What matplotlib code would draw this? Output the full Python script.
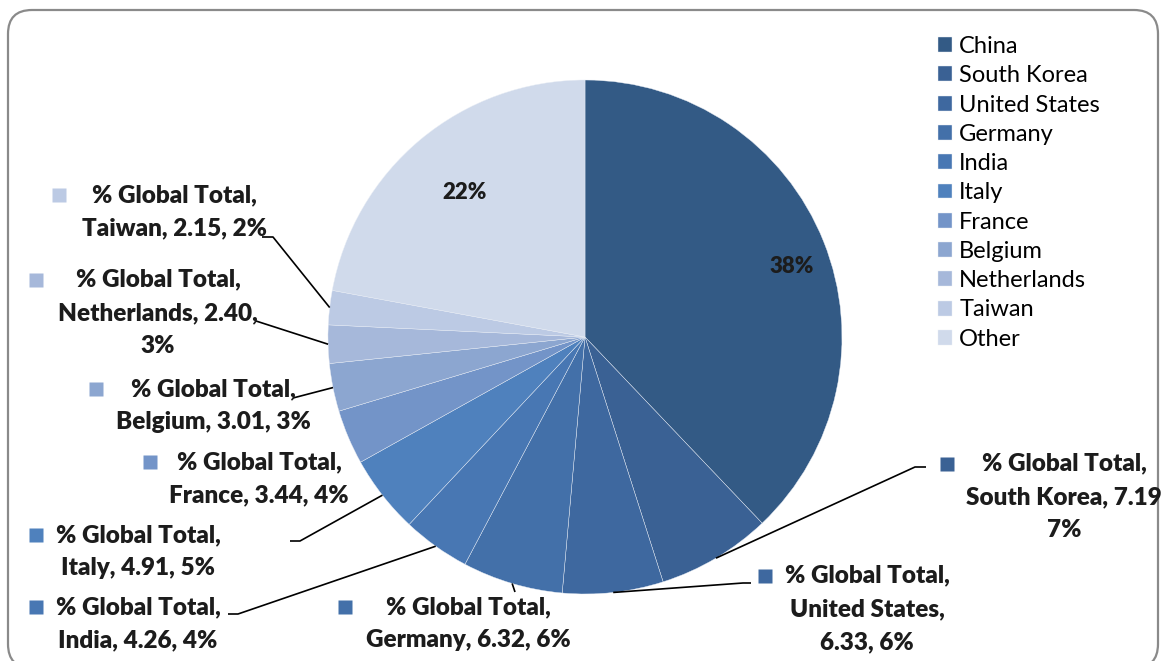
import numpy as np
import matplotlib.pyplot as plt
from matplotlib.patches import FancyBboxPatch

# share of global total by country
countries = ["China", "South Korea", "United States", "Germany", "India", "Italy",
             "France", "Belgium", "Netherlands", "Taiwan", "Other"]
values = [37.9, 7.19, 6.33, 6.32, 4.26, 4.91, 3.44, 3.01, 2.40, 2.15, 22.1]
pct_text = ["38%", "7%", "6%", "6%", "4%", "5%", "4%", "3%", "3%", "2%", "22%"]
colors = ["#335a85", "#3a6194", "#3e689f", "#4370a9", "#4877b3", "#4f81bd",
          "#7394c8", "#8ca6d0", "#a6b8da", "#bccae4", "#d0daeb"]

plt.rcParams['font.family'] = ['Lato', 'DejaVu Sans']

fig = plt.figure(figsize=(11.62, 6.61), dpi=100)
W, H = 1162, 661

# overlay in pixel units for frame, labels and leader lines
pax = fig.add_axes([0, 0, 1, 1], zorder=0)
pax.set_xlim(0, W)
pax.set_ylim(H, 0)
pax.axis('off')
pax.add_patch(FancyBboxPatch((8, 10), 1150, 658, boxstyle="round,pad=0,rounding_size=24",
                             fc='white', ec='#8a8a8a', lw=1.6))

# pie: centre (585, 337), radius 257 px
cx, cy, r = 585, 337, 257
ax = fig.add_axes([(cx - r) / W, (H - cy - r) / H, 2 * r / W, 2 * r / H], zorder=1)
wedges, _ = ax.pie(values, colors=colors, startangle=90, counterclock=False,
                   wedgeprops=dict(edgecolor='#e8edf5', linewidth=0.3))
ax.set_xlim(-1, 1)
ax.set_ylim(-1, 1)
ax.set_aspect('equal')

lax = fig.add_axes([0, 0, 1, 1], zorder=2)
lax.set_xlim(0, W)
lax.set_ylim(H, 0)
lax.axis('off')
lax.patch.set_alpha(0)

def edge_point(i, rad=1.0, dth=0.0):
    w = wedges[i]
    th = np.deg2rad((w.theta1 + w.theta2) / 2 + dth)
    p = ax.transData.transform((rad * np.cos(th), rad * np.sin(th)))
    return lax.transData.inverted().transform(p)

# percentage inside China and Other
for i, rad, dth in [(0, 0.85, -3), (10, 0.73, 0)]:
    x, y = edge_point(i, rad, dth)
    lax.text(x, y, pct_text[i], ha='center', va='center', fontsize=16,
             fontweight='heavy', color='#1c1c1c')

# outside labels: (text centre x, first line y, marker x, leader elbow points)
label_text = {
    1: "% Global Total,\nSouth Korea, 7.19\n7%",
    2: "% Global Total,\nUnited States,\n6.33, 6%",
    8: "% Global Total,\nNetherlands, 2.40,\n3%",
}
layout = {
    1: (1064, 464, 947, [(915, 467), (926, 467)]),
    2: (867, 576, 765, [(743, 583), (751, 583)]),
    3: (468, 607, 345, [(515, 592)]),
    4: (138, 607, 36, [(238, 614), (228, 614)]),
    5: (138, 535, 36, [(300, 541), (290, 541)]),
    6: (259, 462, 150, []),
    7: (213, 389, 96, [(293, 398)]),
    8: (158, 280, 36, [(256, 321)]),
    9: (174, 195, 59, [(273, 237), (262, 237)]),
}
line_h = 33
for i, (tx, ty, mx, elbow) in layout.items():
    txt = label_text.get(i, "% Global Total,\n{}, {:.2f}, {}".format(
        countries[i], values[i], pct_text[i]))
    n = txt.count("\n") + 1
    lax.text(tx, ty + (n - 1) * line_h / 2, txt, ha='center', va='center',
             multialignment='center', fontsize=17.5, fontweight='heavy',
             color='#1c1c1c', linespacing=1.63)
    lax.plot(mx, ty, marker='s', ms=10, color=colors[i], mec='none')
    if elbow:
        pts = [edge_point(i)] + elbow
        xs, ys = zip(*pts)
        lax.plot(xs, ys, color='black', lw=1.2, solid_capstyle='butt')

fig.legend(wedges, countries, loc='upper left', bbox_to_anchor=(938 / W, 1 - 36 / H),
           frameon=False, fontsize=17, handlelength=0.6, handleheight=0.6,
           handletextpad=0.3, labelspacing=0.35, borderpad=0, borderaxespad=0)

fig.savefig('out.png', dpi=100)
